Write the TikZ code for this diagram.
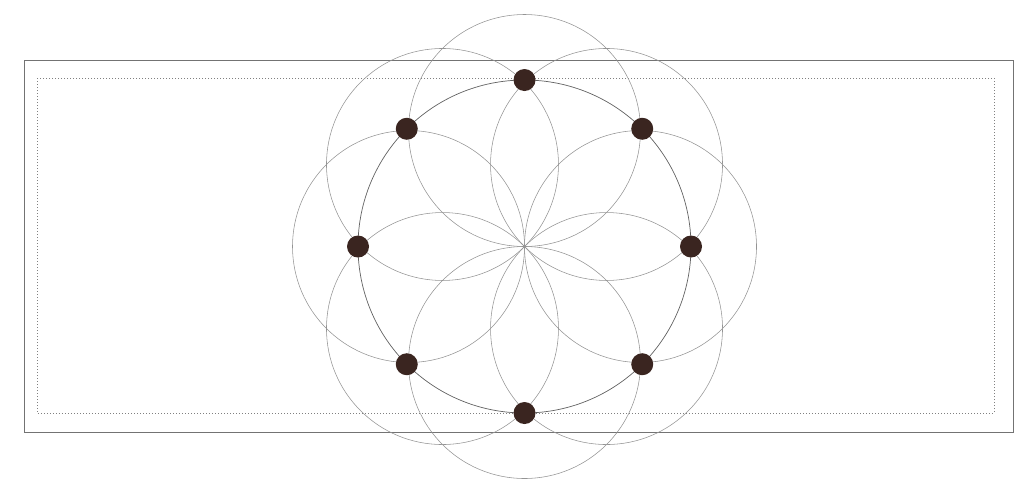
\documentclass[tikz,border=0pt]{standalone}
\usetikzlibrary{calc}
\begin{document}
\begin{tikzpicture}[x=1pt,y=-1pt,
  petal/.style={draw=black!42, line width=0.55pt},
  ring/.style={draw=black!62, line width=0.7pt},
  frame/.style={draw=black!55, line width=0.8pt},
  dotframe/.style={draw=black!50, line width=0.6pt, dash pattern=on 1.2pt off 1.8pt},
  seed/.style={circle, fill=dotbrown, inner sep=0pt, minimum size=22pt}]
\definecolor{dotbrown}{HTML}{3A2520}
\useasboundingbox (0,0) rectangle (1024,499);
\draw[frame] (24,60) rectangle (1013,432);
\draw[dotframe] (37,78) rectangle (994,413);
\coordinate (c) at (524.5,246.5);
\foreach \a in {0,45,...,315}{
  \draw[petal] ($(c)+(\a:116)$) circle (116);
}
\draw[ring] (c) circle (166.5);
\foreach \a/\n in {0/d1,45/d2,90/d3,135/d4,180/d5,225/d6,270/d7,315/d8}{
  \node[seed] (\n) at ($(c)+(\a:166.5)$) {};
}
\end{tikzpicture}
\end{document}
